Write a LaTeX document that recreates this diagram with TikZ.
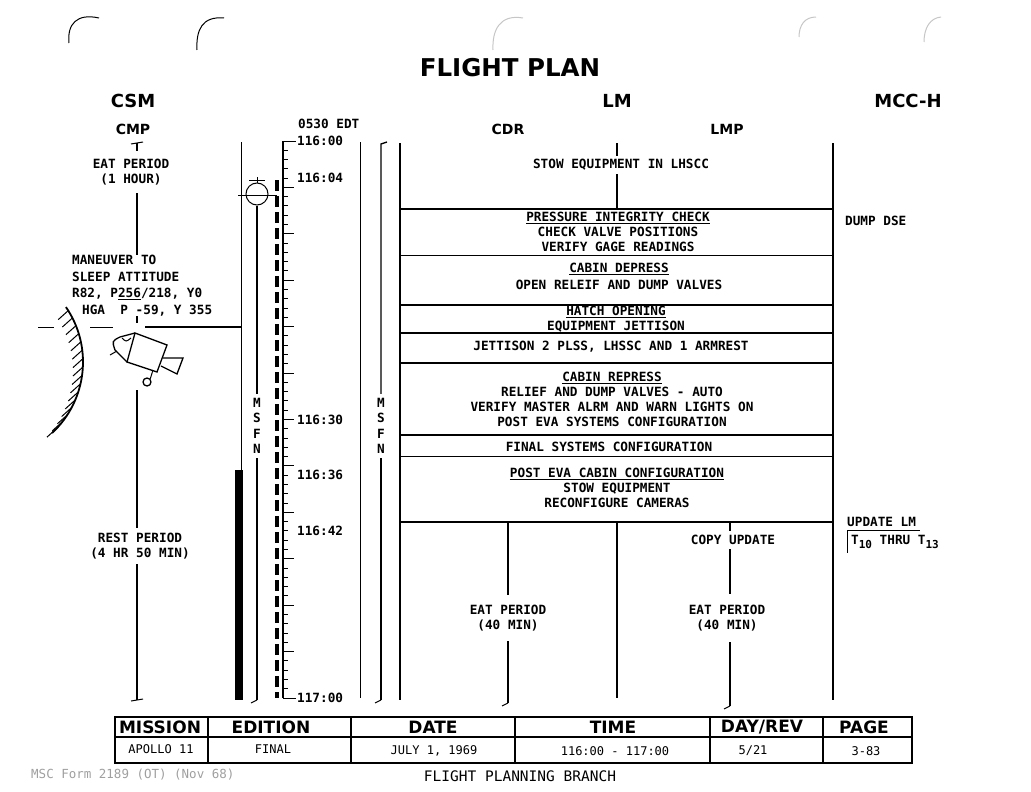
\documentclass[tikz,border=0pt]{standalone}
\usepackage{fontspec}
\setmainfont{DejaVu Sans Mono}
\newfontfamily\hdfont{DejaVu Sans}

\tikzset{
    tw/.style={font=\bfseries\fontsize{12.7}{15}\selectfont, inner sep=0pt, align=center},
    lbl/.style={tw, inner ysep=8pt},
    title/.style={font=\hdfont\bfseries\fontsize{24.5}{26}\selectfont, inner sep=0pt},
    hd/.style={font=\hdfont\bfseries\fontsize{18}{20}\selectfont, inner sep=0pt},
    sub/.style={font=\hdfont\bfseries\fontsize{14}{16}\selectfont, inner sep=0pt},
    tabhd/.style={font=\hdfont\bfseries\fontsize{17}{19}\selectfont, inner sep=0pt},
    tabtx/.style={font=\fontsize{12}{14}\selectfont, inner sep=0pt},
    msfn/.style={font=\bfseries\fontsize{12.7}{15.5}\selectfont, inner sep=0pt, inner ysep=4pt, align=center},
    rule/.style={line width=1.8pt},
    mid/.style={line width=1.3pt},
    fine/.style={line width=1pt},
}

\begin{document}
\begin{tikzpicture}[x=1pt, y=-1pt]
    \useasboundingbox (0,0) rectangle (1031,792);

    % headings
    \node[title] (flightplan) at (510,68) {FLIGHT PLAN};
    \node[hd] (csm) at (133,101) {CSM};
    \node[hd] (lm) at (617,101) {LM};
    \node[hd] (mcch) at (908,101) {MCC-H};
    \node[sub] (cmp) at (133,129) {CMP};
    \node[sub] (cdr) at (508,129) {CDR};
    \node[sub] (lmp) at (727,129) {LMP};

    \coordinate (cmpx) at (137,0);
    \coordinate (cdrx) at (508,0);
    \coordinate (lmpx) at (730,0);

    % CMP column
    \node[lbl] (eatcmp) at (131,172) {EAT PERIOD\\(1 HOUR)};
    \node[tw, align=left, anchor=north west, font=\bfseries\fontsize{12.7}{16.6}\selectfont] (maneuver) at (72,255)
        {MANEUVER TO\\SLEEP ATTITUDE\\R82, P\underline{256}/218, Y0\\\hspace*{10pt}HGA\ \ P -59, Y 355};
    \node[lbl, inner ysep=5pt] (rest) at (140,546) {REST PERIOD\\(4 HR 50 MIN)};

    \draw[fine] (131,144) -- (143,142);
    \draw[rule] (137,143) -- (eatcmp.north -| cmpx);
    \draw[rule] (eatcmp.south -| cmpx) -- (maneuver.north -| cmpx);
    \draw[rule] (137,316) -- (137,323);
    \draw[rule] (145,327) -- (241,327);
    \draw[fine] (38,327) -- (54,327);
    \draw[fine] (90,327) -- (113,327);
    \draw[rule] (137,390) -- (rest.north -| cmpx);
    \draw[rule] (rest.south -| cmpx) -- (137,700);
    \draw[fine] (131,701) -- (143,699);

    % earth limb
    \coordinate (earth) at (-14,362);
    \draw[rule] (earth) ++(-34.5:97) arc (-34.5:47:97);
    \foreach \a in {-32,-27,...,45}
        \draw[fine] (earth) ++(\a:97) -- ++(-10,9);

    % spacecraft
    \draw[mid] (135,333) -- (167,345) -- (157,372) -- (127,362) -- cycle;
    \draw[mid] (135,333) -- (120,337) .. controls (112,341) .. (115,350) -- (127,362);
    \draw[fine] (122,338) .. controls (126,342) .. (131,338);
    \draw[fine] (110,355) -- (117,351);
    \draw[mid] (163,358) -- (183,358) -- (177,374) -- (161,366);
    \node[circle, draw, mid, minimum size=8pt, inner sep=0pt] (hga) at (147,382) {};
    \draw[fine] (153,370) -- (hga.north east);

    % MSFN and timeline
    \draw[fine] (241,142) -- (241,470);
    \fill (235,470) rectangle (243,700);
    \node[circle, draw, fine, minimum size=22pt, inner sep=0pt] (aos) at (257,194) {};
    \draw[fine] (238,195) -- (277,195);
    \draw[fine] (aos.north) -- ++(0,-6);
    \draw[fine] (249,180) -- (265,180);
    \node[msfn] (msfnl) at (257,426) {M\\S\\F\\N};
    \draw[mid] (aos.south) -- (msfnl.north);
    \draw[mid] (msfnl.south) -- (257,700);
    \draw[fine] (251,703) -- (257,700);

    \draw[line width=3.5pt, dash pattern=on 11pt off 5pt] (277,180) -- (277,698);

    \draw[rule] (283,141) -- (283,698);
    \foreach \m in {1,...,59} {
        \pgfmathsetmacro\ticklen{mod(\m,5)==0 ? 11 : 5}
        \draw[fine] (283,141+\m*9.283) -- ++(\ticklen,0);
    }
    \draw[fine] (283,141) -- (296,141);
    \draw[fine] (283,698) -- (296,698);
    \node[tw, anchor=west] (edt) at (298,124) {0530 EDT};
    \node[tw, anchor=west] (t0) at (297,141) {116:00};
    \node[tw, anchor=west] (t4) at (297,178) {116:04};
    \node[tw, anchor=west] (t30) at (297,420) {116:30};
    \node[tw, anchor=west] (t36) at (297,475) {116:36};
    \node[tw, anchor=west] (t42) at (297,531) {116:42};
    \node[tw, anchor=west] (t60) at (297,698) {117:00};

    \draw[fine] (360,142) -- (360,698);
    \node[msfn] (msfnr) at (381,426) {M\\S\\F\\N};
    \coordinate (msfntop) at (381,144);
    \draw[mid] (387,142) -- (msfntop) -- (msfnr.north);
    \draw[mid] (msfnr.south) -- (381,700);
    \draw[fine] (375,703) -- (381,700);

    % LM activities
    \draw[rule] (400,143) -- (400,700);
    \draw[rule] (833,143) -- (833,700);
    \draw[rule] (400,209) -- (833,209);
    \draw[rule] (400,255.5) -- (833,255.5);
    \draw[rule] (400,305) -- (833,305);
    \draw[rule] (400,333) -- (833,333);
    \draw[rule] (400,363) -- (833,363);
    \draw[rule] (400,435) -- (833,435);
    \draw[rule] (400,456.5) -- (833,456.5);
    \draw[rule] (400,522) -- (833,522);
    \draw[rule] (617,143) -- (617,156);
    \draw[rule] (617,174) -- (617,209);
    \draw[rule] (617,522) -- (617,698);

    \node[tw] (stow) at (621,165) {STOW EQUIPMENT IN LHSCC};
    \node[tw] (pressure) at (618,232) {\underline{PRESSURE INTEGRITY CHECK}\\CHECK VALVE POSITIONS\\VERIFY GAGE READINGS};
    \node[tw, font=\bfseries\fontsize{12.7}{17}\selectfont] (depress) at (619,276) {\underline{CABIN DEPRESS}\\OPEN RELEIF AND DUMP VALVES};
    \node[tw] (hatch) at (616,320) {\underline{HATCH OPENING}\\\underline{EQUIPMENT JETTISON}};
    \node[tw] (jettison) at (611,347) {JETTISON 2 PLSS, LHSSC AND 1 ARMREST};
    \node[tw] (repress) at (612,399) {\underline{CABIN REPRESS}\\RELIEF AND DUMP VALVES - AUTO\\VERIFY MASTER ALRM AND WARN LIGHTS ON\\POST EVA SYSTEMS CONFIGURATION};
    \node[tw] (final) at (609,447) {FINAL SYSTEMS CONFIGURATION};
    \node[tw] (cabin) at (617,488) {\underline{POST EVA CABIN CONFIGURATION}\\STOW EQUIPMENT\\RECONFIGURE CAMERAS};

    % CDR and LMP
    \node[lbl, inner ysep=10pt] (eatcdr) at (508,618) {EAT PERIOD\\(40 MIN)};
    \draw[rule] (508,522) -- (eatcdr.north -| cdrx);
    \draw[rule] (eatcdr.south -| cdrx) -- (508,703);
    \draw[fine] (502,706) -- (508,703);

    \node[lbl, inner ysep=4pt] (copy) at (733,540) {COPY UPDATE};
    \node[lbl, inner ysep=11pt] (eatlmp) at (727,618) {EAT PERIOD\\(40 MIN)};
    \draw[rule] (730,522) -- (copy.north -| lmpx);
    \draw[rule] (copy.south -| lmpx) -- (eatlmp.north -| lmpx);
    \draw[rule] (eatlmp.south -| lmpx) -- (730,706);
    \draw[fine] (724,709) -- (730,706);

    % MCC-H
    \node[tw, anchor=west] (dse) at (845,221) {DUMP DSE};
    \node[tw, anchor=west] (update) at (847,522) {UPDATE LM};
    \node[tw, anchor=west] (thru) at (851,542) {T\raisebox{-4pt}{\fontsize{11}{12}\selectfont 10} THRU T\raisebox{-4pt}{\fontsize{11}{12}\selectfont 13}};
    \draw[fine] (847,530) -- (920,530);
    \draw[fine] (847,530) -- (847,553);

    % title block
    \draw[line width=1.6pt] (115,717) rectangle (912,763);
    \draw[line width=1.6pt] (115,737) -- (912,737);
    \draw[line width=1.2pt] (208,717) -- (208,763);
    \draw[line width=1.2pt] (351,717) -- (351,763);
    \draw[line width=1.2pt] (515,717) -- (515,763);
    \draw[line width=1.2pt] (710,717) -- (710,763);
    \draw[line width=1.2pt] (823,717) -- (823,763);
    \node[tabhd] (mission) at (160,727) {MISSION};
    \node[tabhd] (edition) at (271,727) {EDITION};
    \node[tabhd] (date) at (433,727) {DATE};
    \node[tabhd] (time) at (613,727) {TIME};
    \node[tabhd] (dayrev) at (762,727) {DAY/REV};
    \node[tabhd] (page) at (864,727) {PAGE};
    \node[tabtx] (apollo) at (161,749) {APOLLO 11};
    \node[tabtx] (edfinal) at (273,749) {FINAL};
    \node[tabtx] (july) at (434,751) {JULY 1, 1969};
    \node[tabtx] (span) at (615,751) {116:00 - 117:00};
    \node[tabtx] (rev) at (753,751) {5/21};
    \node[tabtx] (pageno) at (866,751) {3-83};

    % footer
    \node[anchor=west, inner sep=0pt, text=gray!75, font=\fontsize{12.5}{14}\selectfont] (form) at (31,775) {MSC Form 2189 (OT) (Nov 68)};
    \node[inner sep=0pt, font=\fontsize{14.5}{16}\selectfont] (branch) at (520,776) {FLIGHT PLANNING BRANCH};

    % binder hole marks
    \draw[fine] (69,43) .. controls (67,24) and (77,13) .. (99,18);
    \draw[fine] (197,50) .. controls (196,30) and (202,16) .. (224,18);
    \draw[fine, gray!45] (493,50) .. controls (492,30) and (500,14) .. (523,18);
    \draw[fine, gray!45] (799,37) .. controls (799,25) and (805,17) .. (816,17);
    \draw[fine, gray!45] (924,42) .. controls (924,28) and (930,18) .. (941,17);
\end{tikzpicture}
\end{document}
